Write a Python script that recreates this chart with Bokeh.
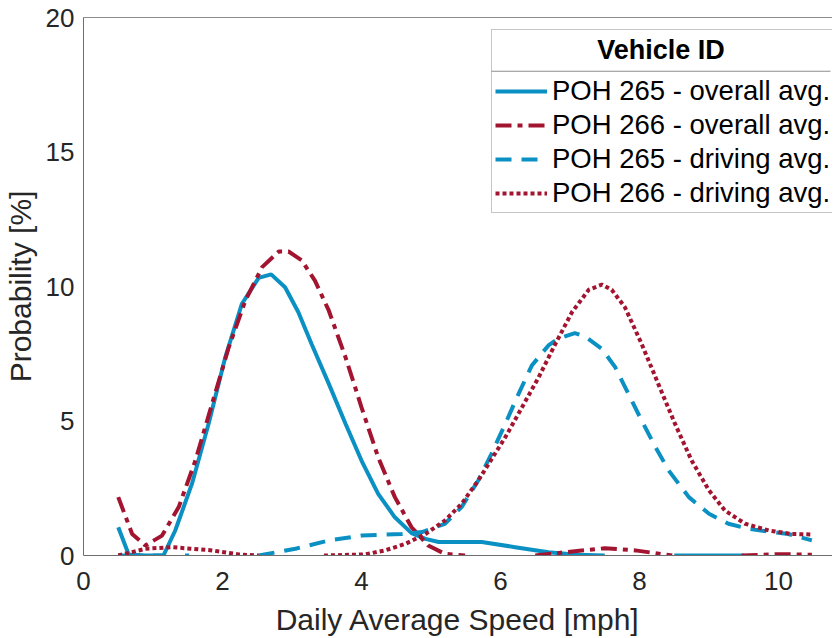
import numpy as np
from bokeh.plotting import figure
from bokeh.models import Range1d, Legend, LegendItem, FixedTicker, BoxAnnotation, Label, LinearAxis
from bokeh.embed import file_html
from bokeh.resources import INLINE

nan = np.nan

# POH 265 - overall avg.
x1 = [0.5, 0.65, 0.9, 1.15, 1.32, 1.56, 1.8, 2.04, 2.28, 2.52, 2.7, 2.9, 3.09, 3.28, 3.53, 3.77, 4.0,
      4.24, 4.48, 4.72, 4.92, 5.11, 5.4, 5.73, 6.21, 6.69, 7.1, 7.5, nan, 8.5, 9.0, 9.5]
y1 = [1.05, 0.04, 0.0, 0.0, 0.93, 2.66, 4.9, 7.37, 9.36, 10.32, 10.45, 9.97, 9.05, 7.87, 6.38, 4.9, 3.53,
      2.29, 1.42, 0.83, 0.62, 0.5, 0.5, 0.5, 0.31, 0.12, 0.03, 0.0, nan, 0.0, 0.0, 0.0]

# POH 266 - overall avg.
x2 = [0.5, 0.7, 0.89, 1.13, 1.37, 1.61, 1.85, 2.09, 2.33, 2.57, 2.81, 2.95, 3.14, 3.33, 3.53, 3.77, 4.0,
      4.24, 4.48, 4.72, 4.96, 5.2, 5.49, nan, 6.5, 6.93, 7.5, 7.94, 8.47, nan, 9.47, 10.0, 10.48]
y2 = [2.17, 0.8, 0.37, 0.74, 1.8, 3.53, 5.64, 7.74, 9.48, 10.72, 11.3, 11.3, 10.97, 10.22, 9.1, 7.37, 5.51,
      3.65, 2.17, 1.05, 0.37, 0.06, 0.0, nan, 0.0, 0.12, 0.27, 0.19, 0.0, nan, 0.0, 0.05, 0.03]

# POH 265 - driving avg.
x3 = [0.5, 0.68, nan, 1.0, 1.17, nan, 1.46, 1.52, nan, 2.52, 3.05, 3.53, 4.0, 4.58, 4.87, 5.2, 5.44, 5.68,
      5.87, 6.07, 6.26, 6.45, 6.69, 6.83, 7.07, 7.22, 7.46, 7.65, 7.84, 8.03, 8.23, 8.42, 8.71, 9.0,
      9.28, 9.57, 9.86, 10.14, 10.48]
y3 = [0.0, 0.0, nan, 0.0, 0.0, nan, 0.0, 0.0, nan, 0.0, 0.25, 0.56, 0.74, 0.8, 0.87, 1.18, 1.8, 2.79,
      3.78, 4.9, 6.01, 7.06, 7.81, 8.06, 8.27, 8.14, 7.68, 7.0, 6.01, 5.02, 4.03, 3.16, 2.17, 1.55,
      1.18, 0.99, 0.89, 0.8, 0.56]

# POH 266 - driving avg.
x4 = [0.5, 0.89, 1.27, 1.85, 2.23, 2.52, nan, 3.46, 4.05, 4.34, 4.63, 4.92, 5.2, 5.44, 5.68, 5.83, 6.07,
      6.31, 6.55, 6.79, 7.03, 7.27, 7.46, 7.6, 7.79, 8.03, 8.27, 8.51, 8.75, 9.0, 9.23, 9.52, 9.86,
      10.19, 10.48]
y4 = [0.0, 0.25, 0.31, 0.19, 0.04, 0.0, nan, 0.0, 0.04, 0.19, 0.43, 0.8, 1.3, 1.92, 2.79, 3.41, 4.4,
      5.51, 6.63, 7.87, 9.05, 9.88, 10.07, 9.88, 9.23, 7.87, 6.38, 4.9, 3.53, 2.42, 1.67, 1.18, 0.93,
      0.8, 0.78]

labels = ["POH 265 - overall avg.", "POH 266 - overall avg.",
          "POH 265 - driving avg.", "POH 266 - driving avg."]
legend_title = "Vehicle ID"
x_ticks = [0, 2, 4, 6, 8, 10]
y_ticks = [0, 5, 10, 15, 20]

BLUE = "#0A90C2"
RED = "#A2142F"
FONT = "Liberation Sans"
GRAY = "#8c8c8c"

# layout (pixels)
W, H = 832, 638
BL, BT, BB, BR = 83, 17, 83, 0
FRAME_W = W - BL - BR
FRAME_H = H - BT - BB
PX_PER_X = 69.5
X_END = FRAME_W / PX_PER_X
Y_END = 20.0
LEG_X, LEG_Y, LEG_W = 408, 342, 339
SEP_FROM_TOP = 53.7
TITLE_FROM_TOP = 32.0

p = figure(width=W, height=H, output_backend="svg", toolbar_location=None,
           x_range=Range1d(0, X_END), y_range=Range1d(0, Y_END),
           min_border_left=BL, min_border_top=BT, min_border_bottom=BB, min_border_right=BR)
p.background_fill_color = "white"
p.border_fill_color = "white"
p.outline_line_color = None
p.grid.visible = False

xax = p.below[0]
yax = p.left[0]
for ax in (xax, yax):
    ax.major_tick_in = 0
    ax.major_tick_out = 0
    ax.minor_tick_in = 0
    ax.minor_tick_out = 0
    ax.axis_line_color = "#6e6e6e"
    ax.major_label_text_font = FONT
    ax.major_label_text_font_size = "26px"
    ax.major_label_text_color = "#262626"
    ax.axis_label_text_font = FONT
    ax.axis_label_text_font_size = "30px"
    ax.axis_label_text_font_style = "normal"
    ax.axis_label_text_color = "#262626"

xax.ticker = FixedTicker(ticks=x_ticks)
yax.ticker = FixedTicker(ticks=y_ticks)
xax.axis_label = "Daily Average Speed [mph]"
yax.axis_label = "Probability [%]"
xax.major_label_standoff = 16
yax.major_label_standoff = 9
xax.axis_label_standoff = 10
yax.axis_label_standoff = 6

top_axis = LinearAxis(major_label_text_font_size="0px", major_tick_in=0, major_tick_out=0,
                      minor_tick_in=0, minor_tick_out=0, axis_line_color=GRAY,
                      major_label_standoff=0, ticker=FixedTicker(ticks=[]))
p.add_layout(top_axis, "above")

r1 = p.line(x1, y1, line_color=BLUE, line_width=4)
r2 = p.line(x2, y2, line_color=RED, line_width=4, line_dash="16 6 5 6")
r3 = p.line(x3, y3, line_color=BLUE, line_width=4, line_dash="16 10")
r4 = p.line(x4, y4, line_color=RED, line_width=4, line_dash="4 3")

legend = Legend(items=[LegendItem(label=l, renderers=[r]) for l, r in zip(labels, [r1, r2, r3, r4])],
                location=(LEG_X, LEG_Y), title=legend_title,
                title_text_font=FONT, title_text_font_size="27px", title_text_font_style="bold",
                title_text_alpha=0.0, title_standoff=11,
                label_text_font=FONT, label_text_font_size="27.5px", label_text_color="black",
                border_line_color=GRAY, border_line_width=1,
                glyph_width=52, glyph_height=20, label_standoff=5, spacing=2, padding=3, margin=0,
                background_fill_alpha=0.0)
p.add_layout(legend, "center")

title_lbl = Label(x=LEG_X + LEG_W / 2, y=FRAME_H - TITLE_FROM_TOP, x_units="screen", y_units="screen",
                  text=legend_title, text_font=FONT, text_font_size="27px", text_font_style="bold",
                  text_align="center", text_baseline="middle", text_color="black", level="overlay")
p.add_layout(title_lbl)

sep = BoxAnnotation(left=LEG_X / PX_PER_X, right=(LEG_X + LEG_W) / PX_PER_X,
                    top=Y_END * (FRAME_H - SEP_FROM_TOP + 0.5) / FRAME_H,
                    bottom=Y_END * (FRAME_H - SEP_FROM_TOP - 0.5) / FRAME_H,
                    fill_color=GRAY, fill_alpha=1.0, line_alpha=0, level="overlay")
p.add_layout(sep)

open("out.html", "w").write(file_html(p, INLINE))
